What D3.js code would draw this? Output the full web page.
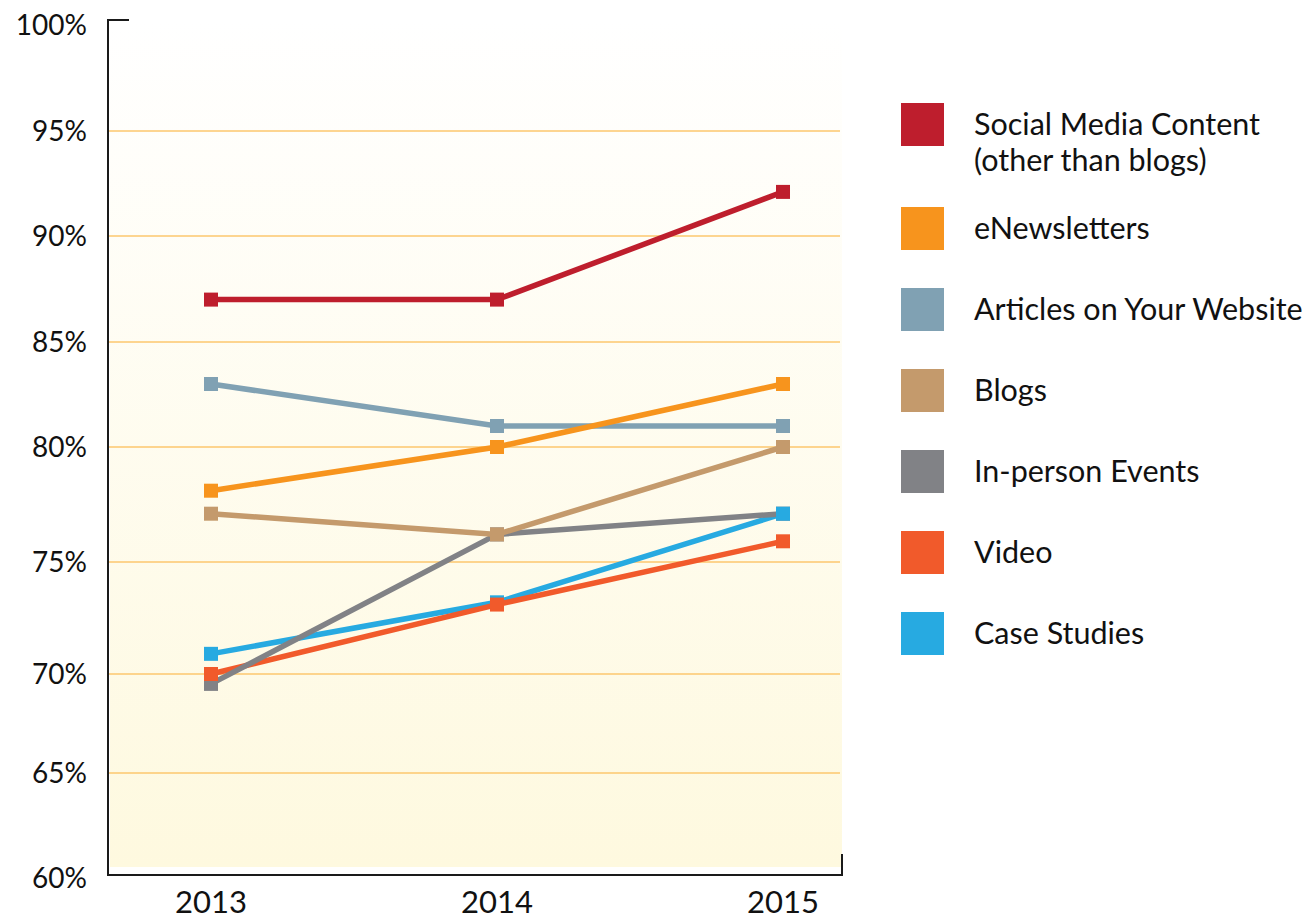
<!DOCTYPE html>
<html>
<head>
<meta charset="utf-8">
<script src="https://cdn.jsdelivr.net/npm/d3@7"></script>
<style>
  html, body { margin: 0; padding: 0; background: #fff; }
  svg { display: block; font-family: Lato, "Noto Sans", sans-serif; }
</style>
</head>
<body>
<svg id="chart"></svg>
<script>
// chart data
const years = ["2013", "2014", "2015"];
const seriesNames = ["Social Media Content|(other than blogs)", "eNewsletters", "Articles on Your Website",
                     "Blogs", "In-person Events", "Video", "Case Studies"];
const seriesColors = ["#be1e2d", "#f7941d", "#80a1b3", "#c49a6c", "#818286", "#f15a2b", "#27aae1"];
const socialMedia = [87, 87, 92.1];
const eNewsletters = [78.1, 80, 83];
const articles = [83, 81, 81];
const blogs = [77.1, 76.2, 80];
const inPerson = [69.5, 76.2, 77.1];
const video = [70, 73.1, 75.9];
const caseStudies = [70.9, 73.2, 77.1];
const yTicks = [60, 65, 70, 75, 80, 85, 90, 95, 100];

const seriesValues = [socialMedia, eNewsletters, articles, blogs, inPerson, video, caseStudies];

const width = 1303, height = 919;
const svg = d3.select("#chart").attr("width", width).attr("height", height);

const x = d3.scalePoint().domain(years).range([211, 783]);
// the original axis is not evenly spaced, so map each tick to where it sits
const y = d3.scaleLinear().domain(yTicks).range([878, 773, 674, 562, 447, 342, 236, 131, 25]);

const plotLeft = 108, plotRight = 842, plotTop = 20, axisY = 875;

// background gradient
const grad = svg.append("defs").append("linearGradient")
    .attr("id", "bg").attr("x1", 0).attr("y1", 0).attr("x2", 0).attr("y2", 1);
grad.append("stop").attr("offset", "0%").attr("stop-color", "#ffffff");
grad.append("stop").attr("offset", "100%").attr("stop-color", "#fef9df");

svg.append("rect")
    .attr("x", plotLeft + 2).attr("y", plotTop)
    .attr("width", plotRight - plotLeft - 2).attr("height", 867 - plotTop)
    .attr("fill", "url(#bg)");

// gridlines
svg.append("g").selectAll("line")
    .data(yTicks.filter(d => d > 60 && d < 100))
    .enter().append("line")
    .attr("x1", plotLeft).attr("x2", plotRight - 2)
    .attr("y1", d => y(d)).attr("y2", d => y(d))
    .attr("stroke", "#fcc76e").attr("stroke-width", 1.5);

// y axis labels
svg.append("g").selectAll("text")
    .data(yTicks)
    .enter().append("text")
    .attr("x", 87).attr("y", d => y(d))
    .attr("text-anchor", "end").attr("dy", "0.36em")
    .attr("font-size", 28).attr("fill", "#111")
    .text(d => d + "%");

// x axis labels
svg.append("g").selectAll("text")
    .data(years)
    .enter().append("text")
    .attr("x", d => x(d)).attr("y", 913)
    .attr("text-anchor", "middle")
    .attr("font-size", 31).attr("fill", "#111")
    .text(d => d);

// axis frame
svg.append("path")
    .attr("d", `M${plotLeft + 21},${plotTop} H${plotLeft} V${axisY} H${plotRight} V${axisY - 21}`)
    .attr("fill", "none").attr("stroke", "#1a1a1a").attr("stroke-width", 2);

// lines, drawn bottom-up in reverse legend order
const lineOrder = [6, 5, 4, 3, 2, 1, 0];
const markOrder = [4, 6, 5, 3, 2, 1, 0];
const line = d3.line().x((d, i) => x(years[i])).y(d => y(d));

svg.append("g").selectAll("path")
    .data(lineOrder)
    .enter().append("path")
    .attr("d", i => line(seriesValues[i]))
    .attr("fill", "none")
    .attr("stroke", i => seriesColors[i])
    .attr("stroke-width", 5.5);

const markSize = 14;
markOrder.forEach(i => {
    svg.append("g").selectAll("rect")
        .data(seriesValues[i])
        .enter().append("rect")
        .attr("x", (d, j) => x(years[j]) - markSize / 2)
        .attr("y", d => y(d) - markSize / 2)
        .attr("width", markSize).attr("height", markSize)
        .attr("fill", seriesColors[i]);
});

// legend
const legend = svg.append("g");
let ly = 103;
seriesNames.forEach((name, i) => {
    const lines = name.split("|");
    legend.append("rect")
        .attr("x", 901).attr("y", ly)
        .attr("width", 43).attr("height", 43)
        .attr("fill", seriesColors[i]);
    const t = legend.append("text")
        .attr("x", 974).attr("y", ly + 21)
        .attr("font-size", 30.5).attr("fill", "#111");
    lines.forEach((l, k) => {
        t.append("tspan").attr("x", 974).attr("dy", k === 0 ? "0.36em" : 36).text(l);
    });
    ly += 81 + (lines.length - 1) * 23;
});
</script>
</body>
</html>
